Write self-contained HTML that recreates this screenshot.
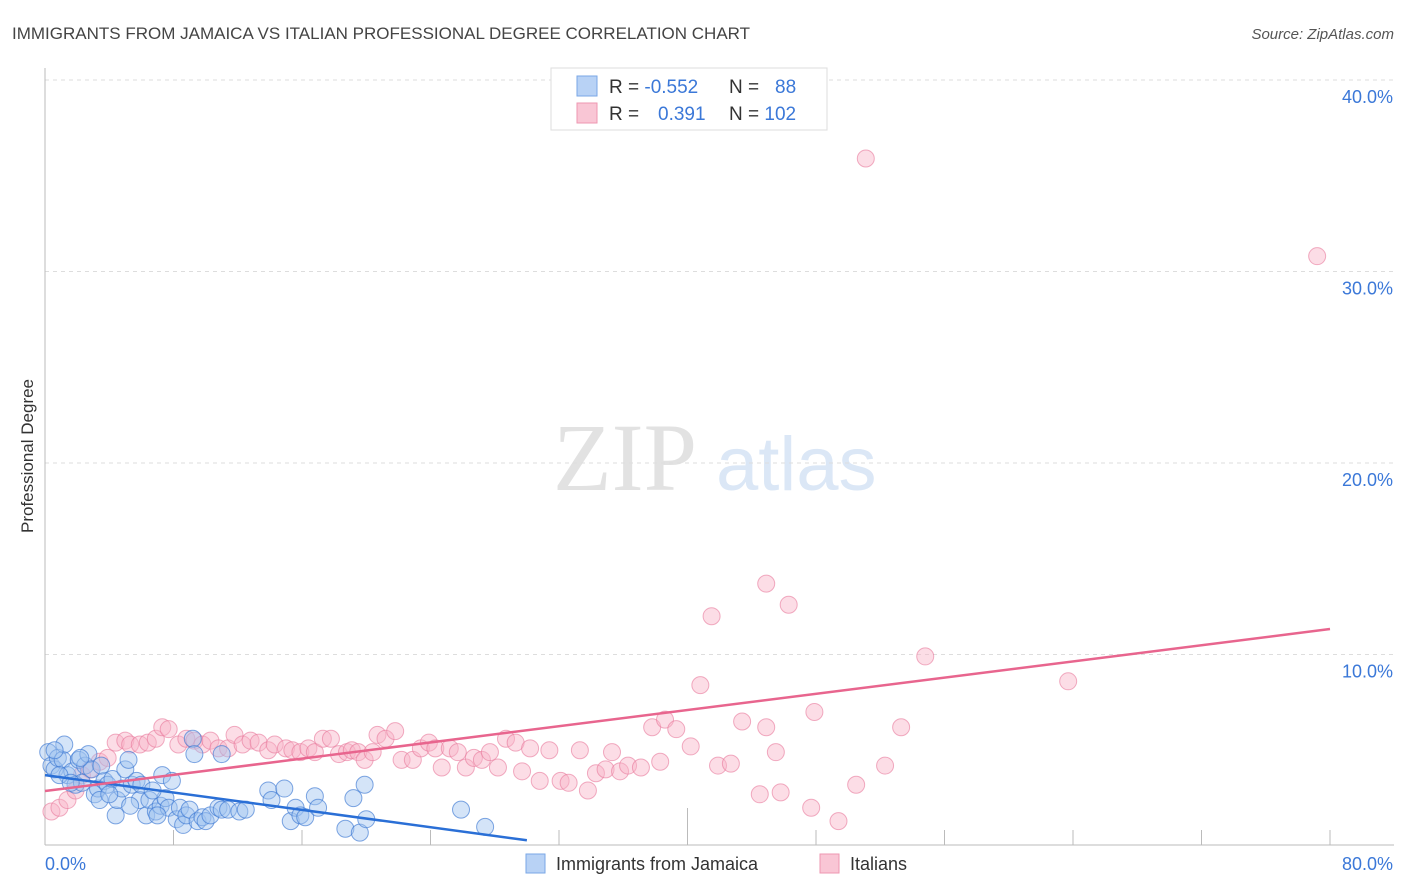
<!DOCTYPE html>
<html><head><meta charset="utf-8"><style>
body{margin:0;background:#fff;width:1406px;height:892px;overflow:hidden;font-family:"Liberation Sans",sans-serif}
</style></head><body>
<svg id="chart" width="1406" height="892" xmlns="http://www.w3.org/2000/svg" style="position:absolute;left:0;top:0;font-family:'Liberation Sans',sans-serif">
<text x="12" y="39" font-size="17" fill="#444">IMMIGRANTS FROM JAMAICA VS ITALIAN PROFESSIONAL DEGREE CORRELATION CHART</text>
<text x="1394" y="39" font-size="15" fill="#555" font-style="italic" text-anchor="end">Source: ZipAtlas.com</text>
<g>
<text x="553" y="490" font-size="96" fill="#e2e2e2" font-family="'Liberation Serif',serif">ZIP</text>
<text x="716" y="490" font-size="76" fill="#dbe7f6">atlas</text>
</g>
<text transform="translate(33,456) rotate(-90)" font-size="17" fill="#333" text-anchor="middle">Professional Degree</text>
<g id="grid"></g><g id="axes"></g><g id="pts"></g><g id="lines"></g>
<g>
<rect x="551" y="68" width="276" height="62" fill="#fff" stroke="#ddd"/>
<rect x="577" y="76" width="20" height="20" fill="#b8d2f5" stroke="#7aa7e6"/>
<rect x="577" y="103" width="20" height="20" fill="#f9c6d5" stroke="#ee97b1"/>
<text x="609" y="93" font-size="19" fill="#333">R = <tspan fill="#3b78d8">-0.552</tspan></text>
<text x="729" y="93" font-size="19" fill="#333">N = <tspan fill="#3b78d8" x="775">88</tspan></text>
<text x="609" y="120" font-size="19" fill="#333">R = <tspan fill="#3b78d8" x="658">0.391</tspan></text>
<text x="729" y="120" font-size="19" fill="#333">N = <tspan fill="#3b78d8">102</tspan></text>
</g>
<g>
<rect x="526" y="854" width="19" height="19" fill="#b8d2f5" stroke="#7aa7e6"/>
<text x="556" y="870" font-size="18" fill="#333">Immigrants from Jamaica</text>
<rect x="820" y="854" width="19" height="19" fill="#f9c6d5" stroke="#ee97b1"/>
<text x="850" y="870" font-size="18" fill="#333">Italians</text>
</g>
</svg>
<script>
const yTicks=[10,20,30,40];
const yTickLabels=["10.0%","20.0%","30.0%","40.0%"];
const xEndLabels=["0.0%","80.0%"];
const blueX=[0.2,0.4,0.6,0.8,1.1,1.2,1.4,1.7,1.9,2.1,2.3,2.5,2.7,2.9,3.1,3.3,3.4,3.7,3.9,4.2,4.4,4.5,4.8,5.0,5.2,5.4,5.7,5.9,6.0,6.3,6.5,6.9,7.2,7.3,7.5,7.7,7.9,8.2,8.4,8.6,8.8,9.0,9.2,9.5,9.8,10.0,10.3,10.8,11.0,11.4,12.1,12.5,13.9,14.1,14.9,15.3,15.6,15.9,16.2,16.8,17.0,18.7,19.2,19.6,20.0,19.9,25.9,27.4,0.6,0.9,1.6,2.2,3.5,4.0,5.3,6.7,7.0,9.3,11.0];
const blueY=[4.9,4.2,4.0,4.6,4.5,5.3,3.7,3.9,3.2,4.5,3.3,4.2,4.8,4.0,2.7,3.0,2.4,3.4,3.2,3.5,1.6,2.4,3.0,4.0,4.5,3.2,3.4,2.4,3.2,1.6,2.4,1.8,2.1,3.7,2.5,2.0,3.4,1.4,2.0,1.1,1.6,1.9,5.6,1.3,1.5,1.3,1.6,2.0,1.9,1.9,1.8,1.9,2.9,2.4,3.0,1.3,2.0,1.6,1.5,2.6,2.0,0.9,2.5,0.7,1.4,3.2,1.9,1.0,5.0,3.7,3.3,4.6,4.2,2.7,2.1,2.9,1.6,4.8,4.8];
const pinkX=[0.4,0.9,1.4,1.9,2.3,2.8,3.4,3.9,4.4,5.0,5.3,5.9,6.4,6.9,7.3,7.7,8.3,8.8,9.3,9.8,10.3,10.8,11.4,11.8,12.3,12.8,13.3,13.9,14.3,15.0,15.4,15.9,16.4,16.8,17.3,17.8,18.3,18.8,19.1,19.5,19.9,20.4,20.7,21.2,21.8,22.2,22.9,23.4,23.9,24.3,24.7,25.2,25.7,26.2,26.7,27.2,27.7,28.2,28.7,29.3,29.7,30.2,30.8,31.4,32.1,32.6,33.3,33.8,34.3,34.9,35.3,35.8,36.3,37.1,37.8,38.3,38.6,39.3,40.2,40.8,41.5,41.9,42.7,43.4,44.5,44.9,45.5,45.8,46.3,44.9,47.7,47.9,49.4,50.5,51.1,52.3,53.3,54.8,63.7,79.2];
const pinkY=[1.8,2.0,2.4,2.9,3.7,4.0,4.4,4.6,5.4,5.5,5.3,5.3,5.4,5.6,6.2,6.1,5.3,5.6,5.5,5.3,5.5,5.1,5.1,5.8,5.3,5.5,5.4,5.0,5.3,5.1,5.0,4.9,5.1,4.9,5.6,5.6,4.8,4.9,5.0,4.9,4.5,4.9,5.8,5.6,6.0,4.5,4.5,5.1,5.4,5.1,4.1,5.1,4.9,4.1,4.6,4.5,4.9,4.1,5.6,5.4,3.9,5.1,3.4,5.0,3.4,3.3,5.0,2.9,3.8,4.0,4.9,3.9,4.2,4.1,6.2,4.4,6.6,6.1,5.2,8.4,12.0,4.2,4.3,6.5,2.7,6.2,4.9,2.8,12.6,13.7,2.0,7.0,1.3,3.2,35.9,4.2,6.2,9.9,8.6,30.8];
const blueTrend=[[0,3.7],[30,0.3]];
const pinkTrend=[[0,2.87],[80,11.33]];
const NS="http://www.w3.org/2000/svg";
const X0=45,X1=1330,Y0=846,PXPER=19.15;
function sx(v){return X0+v*(X1-X0)/80;}
function sy(v){return Y0-v*PXPER;}
function mk(tag,attrs,parent){const e=document.createElementNS(NS,tag);for(const k in attrs)e.setAttribute(k,attrs[k]);parent.appendChild(e);return e;}
const grid=document.getElementById('grid'),axes=document.getElementById('axes'),pts=document.getElementById('pts'),lines=document.getElementById('lines');
yTicks.forEach((t,i)=>{
 const l=mk('line',{x1:X0,x2:1394,y1:sy(t),y2:sy(t),stroke:'#ddd','stroke-dasharray':'4,4'},grid);
 
 
 const tx=mk('text',{x:1393,y:sy(t)+23,'font-size':18,fill:'#3b78d8','text-anchor':'end'},axes);
 tx.textContent=yTickLabels[i];
 
 
});
const ya=mk('line',{x1:X0,x2:X0,y1:68,y2:845,stroke:'#bbb'},axes);


const xa=mk('line',{x1:X0,x2:1394,y1:845,y2:845,stroke:'#bbb'},axes);


for(let i=1;i<=10;i++){
 const v=i*8;
 const tk=mk('line',{x1:sx(v),x2:sx(v),y1:(v===40?808:830),y2:845,stroke:'#bbb'},axes);
 
 
}
const xl0=mk('text',{x:45,y:870,'font-size':18,fill:'#3b78d8'},axes);xl0.textContent=xEndLabels[0];


const xl1=mk('text',{x:1393,y:870,'font-size':18,fill:'#3b78d8','text-anchor':'end'},axes);xl1.textContent=xEndLabels[1];


pinkX.forEach((x,i)=>{
 const c=mk('circle',{cx:sx(x),cy:sy(pinkY[i]),r:8.5,fill:'rgba(248,180,200,0.45)',stroke:'rgba(232,120,155,0.6)','stroke-width':1},pts);
 
 
});
blueX.forEach((x,i)=>{
 const c=mk('circle',{cx:sx(x),cy:sy(blueY[i]),r:8.5,fill:'rgba(160,196,240,0.45)',stroke:'rgba(60,120,210,0.65)','stroke-width':1},pts);
 
 
});
const bl=mk('line',{x1:sx(blueTrend[0][0]),y1:sy(blueTrend[0][1]),x2:sx(blueTrend[1][0]),y2:sy(blueTrend[1][1]),stroke:'#2a6fd6','stroke-width':2.5},lines);


const pl=mk('line',{x1:sx(pinkTrend[0][0]),y1:sy(pinkTrend[0][1]),x2:sx(pinkTrend[1][0]),y2:sy(pinkTrend[1][1]),stroke:'#e8658e','stroke-width':2.5},lines);


</script>
</body></html>
